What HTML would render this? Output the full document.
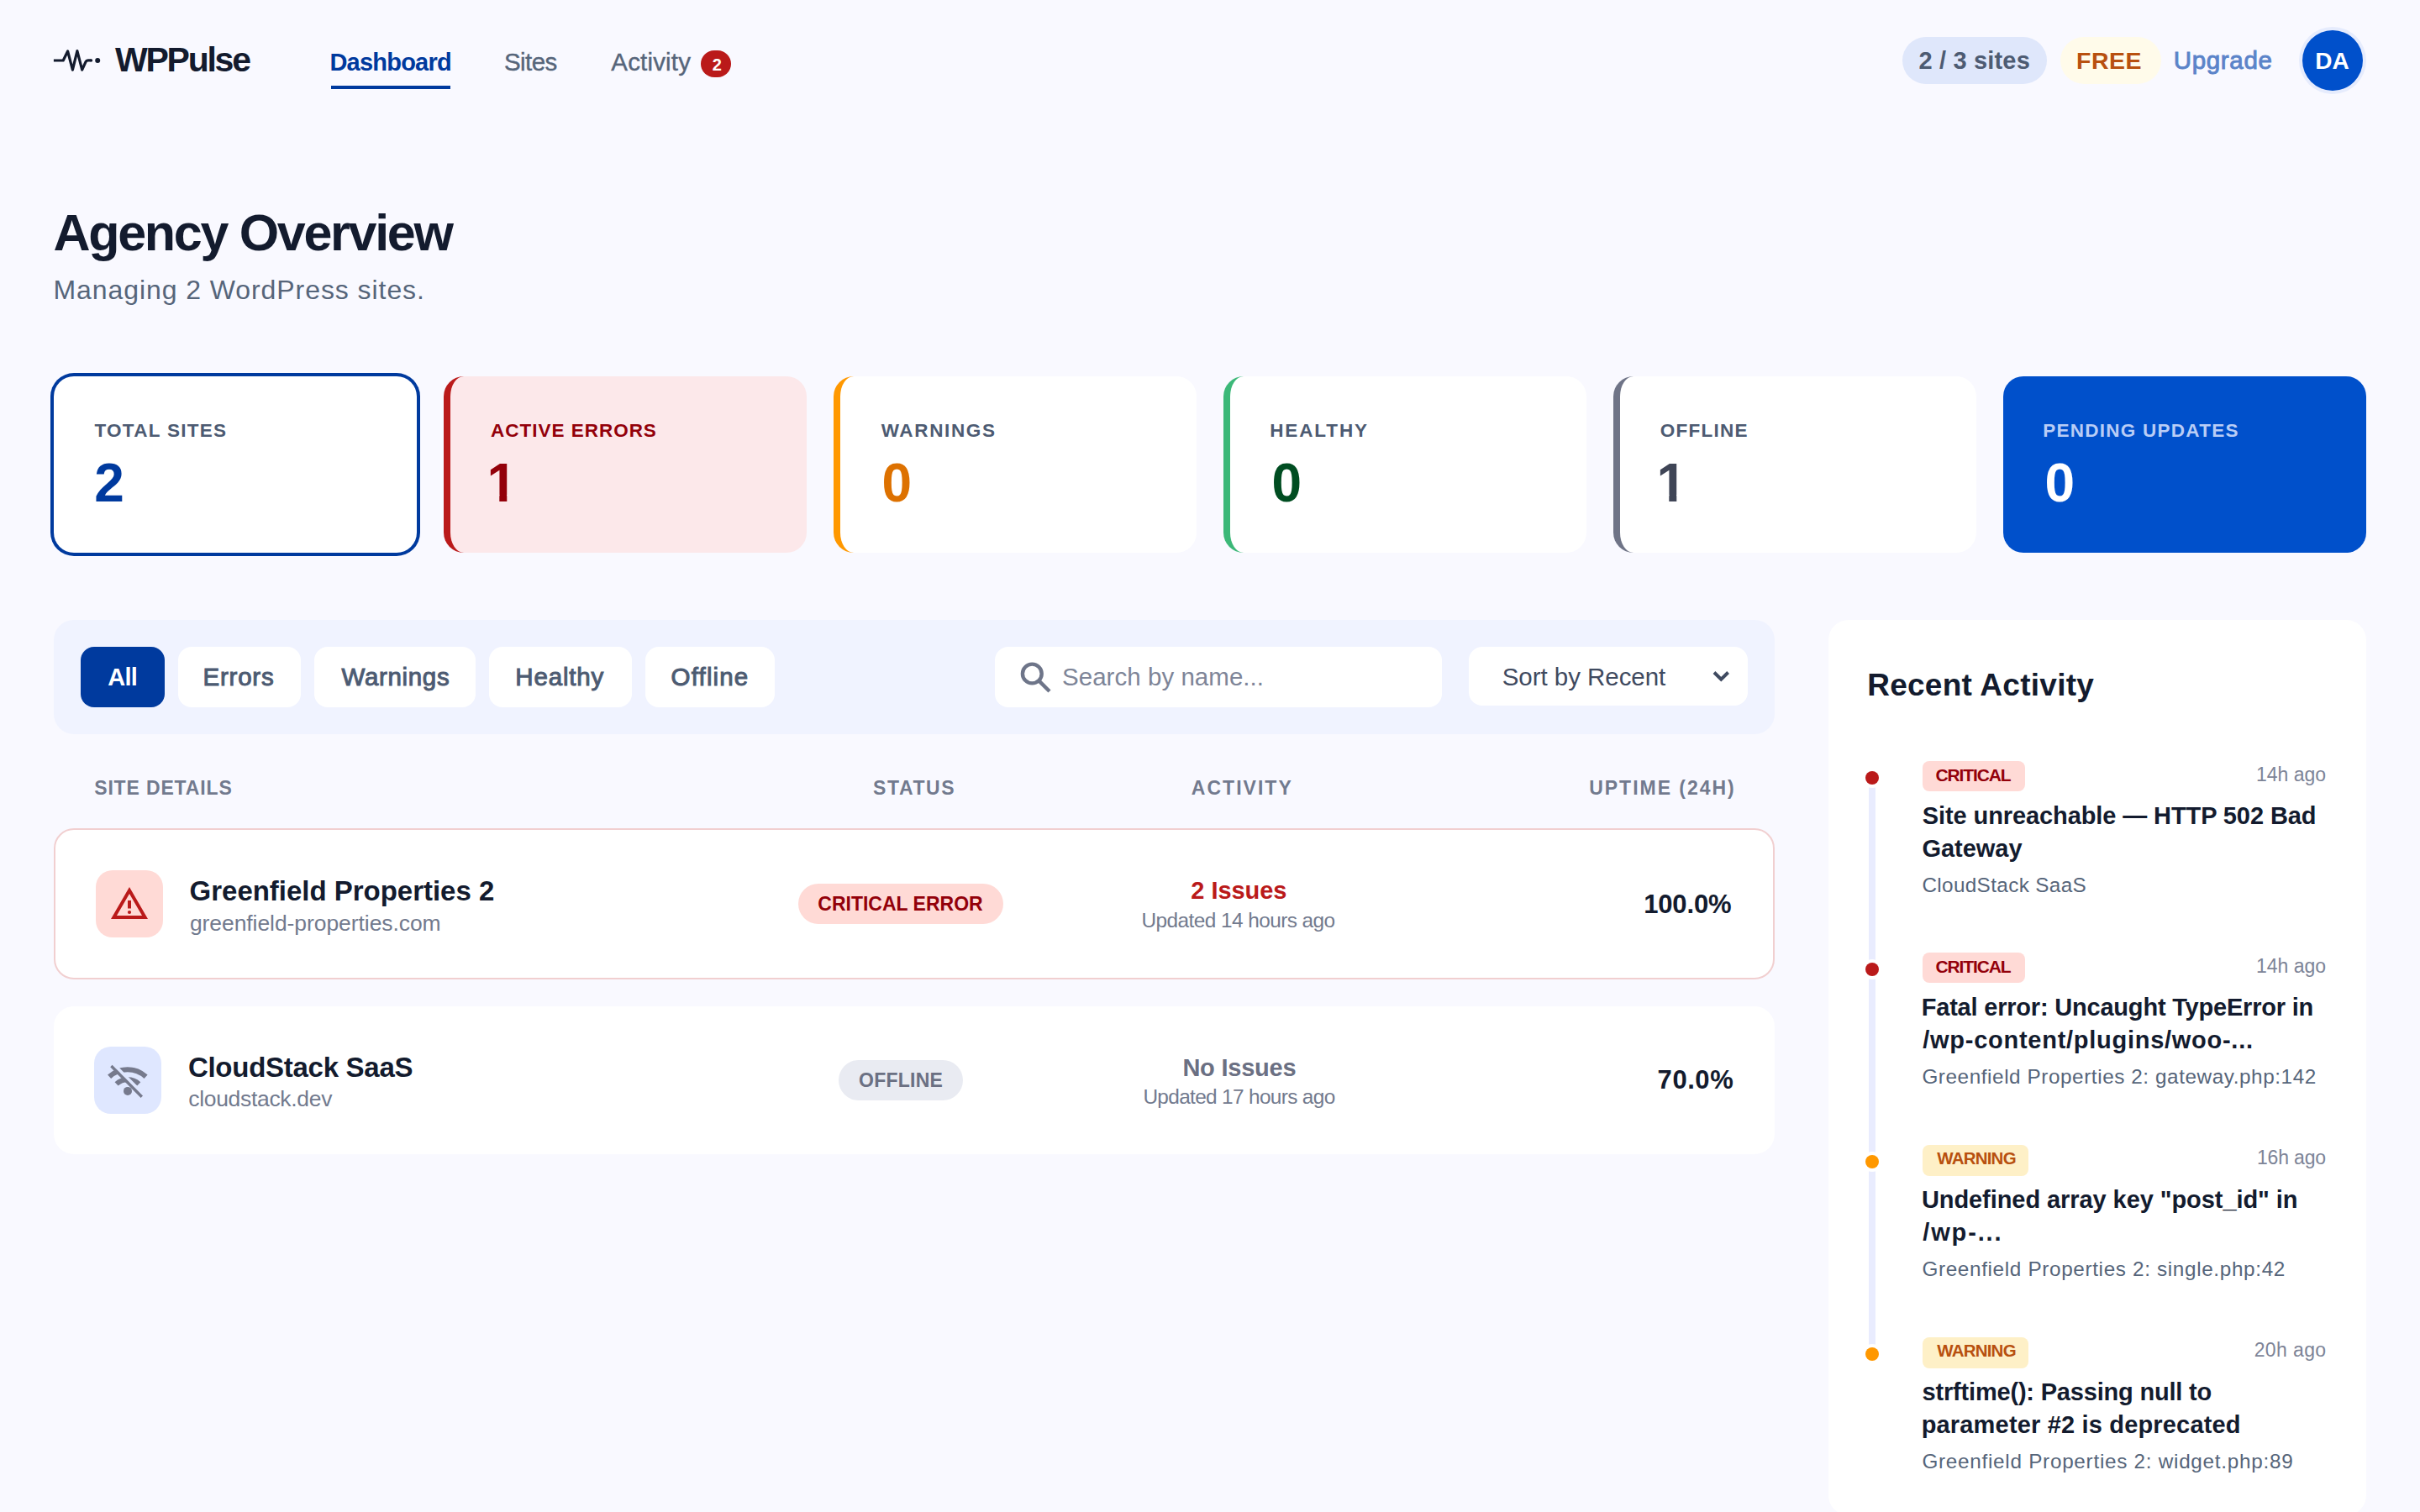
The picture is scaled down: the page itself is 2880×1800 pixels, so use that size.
<!DOCTYPE html>
<html lang="en"><head><meta charset="utf-8"><title>WPPulse – Agency Overview</title><style>
*{margin:0;padding:0;box-sizing:content-box}
html,body{width:2880px;height:1800px;overflow:hidden;background:#f9f9ff}
body{font-family:"Liberation Sans",sans-serif;position:relative;-webkit-font-smoothing:antialiased}
.t{position:absolute;white-space:nowrap;font-weight:400;font-style:normal;display:block;text-decoration:none}
.b{position:absolute;display:block;border:0;font-style:normal}
button.b{outline:0;font:inherit;text-align:left}
@media (max-width:2000px){html{zoom:.5}}
</style></head><body>
<header>
<a class="brand">
<svg class="b" style="left:60px;top:44px;width:64px;height:56px" viewBox="60 44 64 56" fill="none" stroke="#131b2e" stroke-width="3.2" stroke-linejoin="round"><path d="M63.9 72H75.2L80.6 61 86.4 83.2 91.9 60.6 97.7 83.2 101.9 73.8Q102.8 71.9 104.8 71.9L108.6 71.9"/><circle cx="108.6" cy="71.9" r="1.6" fill="#131b2e" stroke="none"/><circle cx="116.2" cy="72" r="3" fill="#131b2e" stroke="none"/></svg>
<span class="t" style="left:137px;top:46.1px;font-size:41px;line-height:51px;color:#131b2e;font-weight:700;letter-spacing:-2.25px;">WPPulse</span>
</a>
<nav>
<a class="t" style="left:392.4px;top:56px;font-size:29px;line-height:36px;color:#003a9e;font-weight:700;letter-spacing:-0.77px;">Dashboard</a>
<i class="b" style="left:394px;top:102px;width:142px;height:4px;background:#003a9e;"></i>
<a class="t" style="left:600px;top:55px;font-size:29.5px;line-height:37px;color:#56657a;letter-spacing:-0.59px;-webkit-text-stroke:0.4px #56657a;">Sites</a>
<a class="t" style="left:727.3px;top:55px;font-size:29.5px;line-height:37px;color:#56657a;letter-spacing:0.18px;-webkit-text-stroke:0.4px #56657a;">Activity</a>
<span class="b badge" style="left:834px;top:60px;width:36px;height:32px;background:#ba1a1a;border-radius:16px;">
<b class="t" style="left:13.7px;top:4.5px;font-size:20px;line-height:25px;color:#fff;font-weight:700;">2</b>
</span>
</nav>
<div class="acct">
<div class="b pill" style="left:2264px;top:44px;width:172px;height:56px;background:#dfe7fb;border-radius:28px;">
<span class="t" style="left:19.6px;top:10px;font-size:29px;line-height:36px;color:#4d5b72;font-weight:700;letter-spacing:0.16px;">2 / 3 sites</span>
</div>
<div class="b pill" style="left:2452px;top:44px;width:120px;height:56px;background:#fffbea;border-radius:28px;">
<span class="t" style="left:19.1px;top:10px;font-size:28.5px;line-height:36px;color:#b8500f;font-weight:700;letter-spacing:0.44px;">FREE</span>
</div>
<a class="t" style="left:2586.7px;top:53px;font-size:29.5px;line-height:37px;color:#5b84c9;letter-spacing:0.67px;-webkit-text-stroke:0.9px #5b84c9;">Upgrade</a>
<div class="b avatar" style="left:2740px;top:36px;width:72px;height:72px;background:#0050cb;border-radius:36px;box-shadow:0 0 0 4px #e6ecfd;">
<span class="t" style="left:15.2px;top:19px;font-size:28px;line-height:35px;color:#fff;font-weight:700;">DA</span>
</div>
</div>
</header>
<main>
<h1 class="t" style="left:63.5px;top:241.3px;font-size:61px;line-height:72px;color:#131b2e;font-weight:700;letter-spacing:-2.30px;">Agency Overview</h1>
<p class="t" style="left:63.4px;top:324.7px;font-size:32px;line-height:40px;color:#56657a;letter-spacing:0.93px;">Managing 2 WordPress sites.</p>
<section class="stats">
<div class="b card" style="left:64px;top:448px;width:432px;height:210px;background:#fff;border-radius:24px;box-shadow:0 0 0 4px #003a9e;">
<span class="t" style="left:48.4px;top:50.5px;font-size:22.5px;line-height:28px;color:#4d5b72;font-weight:700;letter-spacing:1.29px;">TOTAL SITES</span>
<strong class="t" style="left:48.3px;top:86.8px;font-size:64px;line-height:80px;color:#003a9e;font-weight:700;">2</strong>
</div>
<div class="b card" style="left:528px;top:448px;width:432px;height:210px;background:#fce8ea;border-radius:24px;border-left:8px solid #ba1a1a;box-sizing:border-box;">
<span class="t" style="left:48.1px;top:50.5px;font-size:22.5px;line-height:28px;color:#93000a;font-weight:700;letter-spacing:0.98px;">ACTIVE ERRORS</span>
<strong class="t" style="left:43.6px;top:86.8px;font-size:64px;line-height:80px;color:#93000a;font-weight:700;clip-path:polygon(0 0,100% 0,100% 54.3px,23.7px 54.3px,23.7px 100%,14.7px 100%,14.7px 54.3px,0 54.3px);">1</strong>
</div>
<div class="b card" style="left:992px;top:448px;width:432px;height:210px;background:#fff;border-radius:24px;border-left:8px solid #ff9800;box-sizing:border-box;">
<span class="t" style="left:48.7px;top:50.5px;font-size:22.5px;line-height:28px;color:#4d5b72;font-weight:700;letter-spacing:1.65px;">WARNINGS</span>
<strong class="t" style="left:49.5px;top:86.8px;font-size:64px;line-height:80px;color:#dd7100;font-weight:700;">0</strong>
</div>
<div class="b card" style="left:1456px;top:448px;width:432px;height:210px;background:#fff;border-radius:24px;border-left:8px solid #3cb878;box-sizing:border-box;">
<span class="t" style="left:47.2px;top:50.5px;font-size:22.5px;line-height:28px;color:#4d5b72;font-weight:700;letter-spacing:1.88px;">HEALTHY</span>
<strong class="t" style="left:49.5px;top:86.8px;font-size:64px;line-height:80px;color:#004d21;font-weight:700;">0</strong>
</div>
<div class="b card" style="left:1920px;top:448px;width:432px;height:210px;background:#fff;border-radius:24px;border-left:8px solid #6f7487;box-sizing:border-box;">
<span class="t" style="left:47.8px;top:50.5px;font-size:22.5px;line-height:28px;color:#4d5b72;font-weight:700;letter-spacing:1.26px;">OFFLINE</span>
<strong class="t" style="left:43.6px;top:86.8px;font-size:64px;line-height:80px;color:#3f4556;font-weight:700;clip-path:polygon(0 0,100% 0,100% 54.3px,23.7px 54.3px,23.7px 100%,14.7px 100%,14.7px 54.3px,0 54.3px);">1</strong>
</div>
<div class="b card" style="left:2384px;top:448px;width:432px;height:210px;background:#0050cb;border-radius:24px;">
<span class="t" style="left:47.2px;top:50.5px;font-size:22.5px;line-height:28px;color:#b9cdf6;font-weight:700;letter-spacing:1.26px;">PENDING UPDATES</span>
<strong class="t" style="left:49.5px;top:86.8px;font-size:64px;line-height:80px;color:#fff;font-weight:700;">0</strong>
</div>
</section>
<section class="filters">
<div class="b bar" style="left:64px;top:738px;width:2048px;height:136px;background:#f0f3ff;border-radius:24px;">
<button class="b" style="left:32px;top:32px;width:100px;height:72px;background:#003a9e;border-radius:16px;">
<span class="t" style="left:32.3px;top:18px;font-size:29px;line-height:36px;color:#fff;font-weight:700;letter-spacing:-0.79px;">All</span>
</button>
<button class="b" style="left:148px;top:32px;width:146px;height:72px;background:#fff;border-radius:16px;">
<span class="t" style="left:29.6px;top:17px;font-size:29.5px;line-height:37px;color:#4d5b72;letter-spacing:0.76px;-webkit-text-stroke:1.0px #4d5b72;">Errors</span>
</button>
<button class="b" style="left:310px;top:32px;width:192px;height:72px;background:#fff;border-radius:16px;">
<span class="t" style="left:32.5px;top:17px;font-size:29.5px;line-height:37px;color:#4d5b72;letter-spacing:0.67px;-webkit-text-stroke:1.0px #4d5b72;">Warnings</span>
</button>
<button class="b" style="left:518px;top:32px;width:170px;height:72px;background:#fff;border-radius:16px;">
<span class="t" style="left:31.3px;top:17px;font-size:29.5px;line-height:37px;color:#4d5b72;letter-spacing:0.83px;-webkit-text-stroke:1.0px #4d5b72;">Healthy</span>
</button>
<button class="b" style="left:704px;top:32px;width:154px;height:72px;background:#fff;border-radius:16px;">
<span class="t" style="left:30.6px;top:17px;font-size:29.5px;line-height:37px;color:#4d5b72;letter-spacing:1.16px;-webkit-text-stroke:1.0px #4d5b72;">Offline</span>
</button>
<label class="b search" style="left:1120px;top:32px;width:532px;height:72px;background:#fff;border-radius:16px;">
<svg class="b" style="left:24px;top:12px;width:48px;height:48px" viewBox="1209 783 48 48" fill="none" stroke="#6e7589" stroke-width="4.4"><circle cx="1229.3" cy="803" r="11.4"/><path d="M1237.6 811.6L1250 824"/></svg>
<span class="t" style="left:80px;top:17px;font-size:29.5px;line-height:37px;color:#7e8598;letter-spacing:0.04px;">Search by name...</span>
</label>
<div class="b select" style="left:1684px;top:32px;width:332px;height:70px;background:#fff;border-radius:16px;">
<span class="t" style="left:39.7px;top:17px;font-size:29.5px;line-height:37px;color:#3f4a60;letter-spacing:-0.04px;">Sort by Recent</span>
<svg class="b" style="left:286px;top:22px;width:28px;height:24px" viewBox="2034 792 28 24" fill="none" stroke="#3f4a60" stroke-width="4"><path d="M2040 800.5L2048.3 808.6 2056.6 800.5"/></svg>
</div>
</div>
</section>
<section class="sites">
<div class="thead">
<span class="t" style="left:112.2px;top:923.8px;font-size:23px;line-height:29px;color:#727a8e;font-weight:700;letter-spacing:0.85px;">SITE DETAILS</span>
<span class="t" style="left:1039.1px;top:923.8px;font-size:23px;line-height:29px;color:#727a8e;font-weight:700;letter-spacing:1.59px;">STATUS</span>
<span class="t" style="left:1417.8px;top:923.8px;font-size:23px;line-height:29px;color:#727a8e;font-weight:700;letter-spacing:2.02px;">ACTIVITY</span>
<span class="t" style="left:1891.2px;top:923.8px;font-size:23px;line-height:29px;color:#727a8e;font-weight:700;letter-spacing:1.98px;">UPTIME (24H)</span>
</div>
<article class="b row" style="left:64px;top:986px;width:2048px;height:180px;background:#fff;border-radius:24px;border:2px solid #f1cfd0;box-sizing:border-box;">
<div class="b ico" style="left:48px;top:48px;width:80px;height:80px;background:#ffdad6;border-radius:20px;">
<svg class="b" style="left:16px;top:16px;width:48px;height:48px" viewBox="0 0 24 24" fill="#ba1a1a"><path d="M12 5.99L19.53 19H4.47L12 5.99M12 2L1 21h22L12 2zM11 10h2v4.8h-2z"/><circle cx="12" cy="17" r="1.06"/></svg>
</div>
<h3 class="t" style="left:159.6px;top:52px;font-size:33px;line-height:41px;color:#131b2e;font-weight:700;letter-spacing:-0.02px;">Greenfield Properties 2</h3>
<span class="t" style="left:159.9px;top:94.8px;font-size:26.5px;line-height:33px;color:#727a8e;letter-spacing:-0.07px;">greenfield-properties.com</span>
<div class="b status" style="left:884px;top:64px;width:244px;height:48px;background:#ffdad6;border-radius:24px;">
<span class="t" style="left:23.3px;top:10.1px;font-size:23px;line-height:29px;color:#93000a;font-weight:700;">CRITICAL ERROR</span>
</div>
<span class="t" style="left:1351.3px;top:54.3px;font-size:29px;line-height:36px;color:#ba1a1a;font-weight:700;letter-spacing:-0.04px;">2 Issues</span>
<span class="t" style="left:1292.4px;top:92.8px;font-size:24.4px;line-height:30px;color:#727a8e;letter-spacing:-0.56px;">Updated 14 hours ago</span>
<span class="t" style="left:1890.2px;top:69px;font-size:31px;line-height:39px;color:#131b2e;font-weight:700;letter-spacing:-0.15px;">100.0%</span>
</article>
<article class="b row" style="left:64px;top:1198px;width:2048px;height:176px;background:#fff;border-radius:24px;">
<div class="b ico" style="left:48px;top:48px;width:80px;height:80px;background:#dfe7ff;border-radius:20px;">
<svg class="b" style="left:16px;top:16px;width:48px;height:48px" viewBox="0 0 24 24" fill="none" stroke="#767a8d" stroke-width="3"><path d="M1.05 9.9A16 16 0 0 1 22.8 9.9"/><path d="M5.3 14.2A9.9 9.9 0 0 1 18.65 14.2"/><circle cx="12" cy="18.45" r="2.5" fill="#767a8d" stroke="none"/><path d="M3.4 2.3L21.6 20.7" stroke="#dfe7ff" stroke-width="1.9"/><path d="M2.2 3.5L20.4 21.9" stroke-width="1.7"/></svg>
</div>
<h3 class="t" style="left:159.9px;top:51.8px;font-size:33px;line-height:41px;color:#131b2e;font-weight:700;letter-spacing:-0.27px;">CloudStack SaaS</h3>
<span class="t" style="left:160.2px;top:93.7px;font-size:26.5px;line-height:33px;color:#727a8e;letter-spacing:-0.31px;">cloudstack.dev</span>
<div class="b status" style="left:934px;top:64px;width:148px;height:48px;background:#e9ebf2;border-radius:24px;">
<span class="t" style="left:24.1px;top:10.1px;font-size:23px;line-height:29px;color:#6b7083;font-weight:700;letter-spacing:0.24px;">OFFLINE</span>
</div>
<span class="t" style="left:1343.4px;top:54.6px;font-size:29px;line-height:36px;color:#6b7083;font-weight:700;letter-spacing:-0.23px;">No Issues</span>
<span class="t" style="left:1296.4px;top:92.7px;font-size:24.4px;line-height:30px;color:#727a8e;letter-spacing:-0.66px;">Updated 17 hours ago</span>
<span class="t" style="left:1908.6px;top:68px;font-size:31px;line-height:39px;color:#131b2e;font-weight:700;letter-spacing:0.56px;">70.0%</span>
</article>
</section>
<aside class="b" style="left:2176px;top:738px;width:640px;height:1066px;background:#fff;border-radius:24px;">
<h2 class="t" style="left:46.2px;top:54.5px;font-size:37px;line-height:46px;color:#131b2e;font-weight:700;letter-spacing:0.27px;">Recent Activity</h2>
<i class="b" style="left:48px;top:188px;width:8px;height:686px;background:#e9ecfe;"></i>
<article>
<i class="b" style="left:44px;top:180px;width:16px;height:16px;background:#ba1a1a;border-radius:8px;box-shadow:0 0 0 4px #fff;"></i>
<span class="b tag" style="left:112px;top:168px;width:122px;height:36px;background:#ffdad6;border-radius:8px;">
<b class="t" style="left:15.5px;top:3.5px;font-size:21px;line-height:26px;color:#93000a;font-weight:700;letter-spacing:-1.13px;">CRITICAL</b>
</span>
<time class="t" style="left:508.9px;top:169.5px;font-size:23px;line-height:29px;color:#7d8497;letter-spacing:0.01px;">14h ago</time>
<p class="t" style="left:111.8px;top:214.6px;font-size:29px;line-height:36px;color:#131b2e;font-weight:700;letter-spacing:-0.10px;">Site unreachable — HTTP 502 Bad</p>
<p class="t" style="left:111.4px;top:253.9px;font-size:29px;line-height:36px;color:#131b2e;font-weight:700;letter-spacing:-0.02px;">Gateway</p>
<span class="t" style="left:111.4px;top:300.5px;font-size:24.3px;line-height:30px;color:#56657a;letter-spacing:0.35px;">CloudStack SaaS</span>
</article>
<article>
<i class="b" style="left:44px;top:408px;width:16px;height:16px;background:#ba1a1a;border-radius:8px;box-shadow:0 0 0 4px #fff;"></i>
<span class="b tag" style="left:112px;top:396px;width:122px;height:36px;background:#ffdad6;border-radius:8px;">
<b class="t" style="left:15.5px;top:3.5px;font-size:21px;line-height:26px;color:#93000a;font-weight:700;letter-spacing:-1.13px;">CRITICAL</b>
</span>
<time class="t" style="left:508.9px;top:397.5px;font-size:23px;line-height:29px;color:#7d8497;letter-spacing:0.01px;">14h ago</time>
<p class="t" style="left:110.7px;top:442.6px;font-size:29px;line-height:36px;color:#131b2e;font-weight:700;letter-spacing:-0.20px;">Fatal error: Uncaught TypeError in</p>
<p class="t" style="left:112.3px;top:481.9px;font-size:29px;line-height:36px;color:#131b2e;font-weight:700;letter-spacing:0.73px;">/wp-content/plugins/woo-...</p>
<span class="t" style="left:111.4px;top:528.5px;font-size:24.3px;line-height:30px;color:#56657a;letter-spacing:0.57px;">Greenfield Properties 2: gateway.php:142</span>
</article>
<article>
<i class="b" style="left:44px;top:636.5px;width:16px;height:16px;background:#ff9800;border-radius:8px;box-shadow:0 0 0 4px #fff;"></i>
<span class="b tag" style="left:112px;top:624.5px;width:126px;height:37px;background:#fef0c7;border-radius:8px;">
<b class="t" style="left:17.3px;top:3.5px;font-size:20.5px;line-height:26px;color:#b8500f;font-weight:700;letter-spacing:-0.80px;">WARNING</b>
</span>
<time class="t" style="left:509.9px;top:626px;font-size:23px;line-height:29px;color:#7d8497;letter-spacing:-0.15px;">16h ago</time>
<p class="t" style="left:110.9px;top:671.9px;font-size:29px;line-height:36px;color:#131b2e;font-weight:700;letter-spacing:-0.07px;">Undefined array key "post_id" in</p>
<p class="t" style="left:112.3px;top:711.2px;font-size:29px;line-height:36px;color:#131b2e;font-weight:700;letter-spacing:1.85px;">/wp-...</p>
<span class="t" style="left:111.4px;top:758px;font-size:24.3px;line-height:30px;color:#56657a;letter-spacing:0.65px;">Greenfield Properties 2: single.php:42</span>
</article>
<article>
<i class="b" style="left:44px;top:865.5px;width:16px;height:16px;background:#ff9800;border-radius:8px;box-shadow:0 0 0 4px #fff;"></i>
<span class="b tag" style="left:112px;top:853.5px;width:126px;height:37px;background:#fef0c7;border-radius:8px;">
<b class="t" style="left:17.3px;top:3.5px;font-size:20.5px;line-height:26px;color:#b8500f;font-weight:700;letter-spacing:-0.80px;">WARNING</b>
</span>
<time class="t" style="left:506.7px;top:855px;font-size:23px;line-height:29px;color:#7d8497;letter-spacing:0.38px;">20h ago</time>
<p class="t" style="left:111.6px;top:900.9px;font-size:29px;line-height:36px;color:#131b2e;font-weight:700;letter-spacing:-0.19px;">strftime(): Passing null to</p>
<p class="t" style="left:110.7px;top:940.2px;font-size:29px;line-height:36px;color:#131b2e;font-weight:700;letter-spacing:0.17px;">parameter #2 is deprecated</p>
<span class="t" style="left:111.4px;top:987px;font-size:24.3px;line-height:30px;color:#56657a;letter-spacing:0.72px;">Greenfield Properties 2: widget.php:89</span>
</article>
</aside>
</main>
</body></html>
